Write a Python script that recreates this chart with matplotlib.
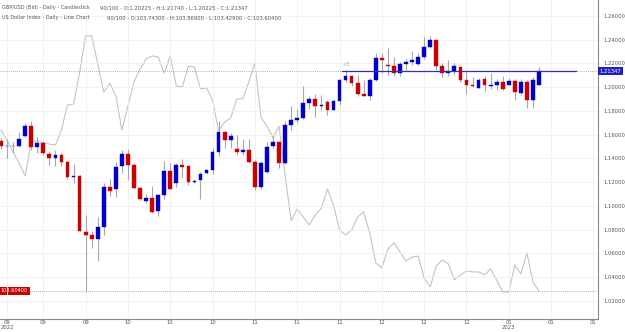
import matplotlib.pyplot as plt

# GBP/USD daily candles (90 of 100 slots)
opens = [1.1551, 1.1501, 1.1509, 1.1509, 1.1593, 1.1677, 1.1496, 1.1534, 1.1438, 1.1400,
         1.1433, 1.1370, 1.1244, 1.1251, 1.0783, 1.0756, 1.0720, 1.0823, 1.1159, 1.1140,
         1.1335, 1.1439, 1.1344, 1.1148, 1.1039, 1.1070, 1.0957, 1.1089, 1.1293, 1.1196,
         1.1344, 1.1335, 1.1201, 1.1215, 1.1280, 1.1299, 1.1453, 1.1624, 1.1553, 1.1484,
         1.1456, 1.1475, 1.1372, 1.1162, 1.1288, 1.1503, 1.1540, 1.1364, 1.1679, 1.1727,
         1.1741, 1.1867, 1.1901, 1.1845, 1.1872, 1.1811, 1.1881, 1.2063, 1.2096, 1.2035,
         1.1945, 1.1929, 1.2057, 1.2245, 1.2189, 1.2175, 1.2119, 1.2195, 1.2216, 1.2195,
         1.2253, 1.2337, 1.2399, 1.2175, 1.2119, 1.2138, 1.2170, 1.2063, 1.2021, 1.1993,
         1.2069, 1.2010, 1.2015, 1.2044, 1.2021, 1.2049, 1.1951, 1.2044, 1.1895, 1.20225]
highs = [1.1576, 1.1560, 1.1542, 1.1626, 1.1702, 1.1719, 1.1584, 1.1551, 1.1459, 1.1475,
         1.1450, 1.1379, 1.1350, 1.1257, 1.0921, 1.0790, 1.0910, 1.1196, 1.1224, 1.1369,
         1.1475, 1.1484, 1.1364, 1.1162, 1.1104, 1.1167, 1.1104, 1.1377, 1.1358, 1.1358,
         1.1397, 1.1337, 1.1224, 1.1282, 1.1307, 1.1490, 1.1713, 1.1629, 1.1616, 1.1601,
         1.1560, 1.1560, 1.1385, 1.1377, 1.1537, 1.1601, 1.1545, 1.1713, 1.1839, 1.1817,
         1.2012, 1.1929, 1.1945, 1.1937, 1.1895, 1.1895, 1.2069, 1.2147, 1.2105, 1.2105,
         1.2063, 1.2077, 1.2292, 1.2287, 1.2329, 1.2253, 1.2216, 1.2237, 1.2306, 1.2287,
         1.2426, 1.2432, 1.2404, 1.2208, 1.2225, 1.2208, 1.2175, 1.2133, 1.2086, 1.2077,
         1.2091, 1.2119, 1.2069, 1.2091, 1.2077, 1.2069, 1.2069, 1.2057, 1.2086, 1.21740]
lows = [1.1484, 1.1400, 1.1450, 1.1500, 1.1584, 1.1475, 1.1450, 1.1433, 1.1341, 1.1340,
        1.1340, 1.1228, 1.1194, 1.0787, 1.0278, 1.0650, 1.0538, 1.0756, 1.1083, 1.1075,
        1.1274, 1.1218, 1.1140, 1.1050, 1.1022, 1.0944, 1.0916, 1.1056, 1.1140, 1.1162,
        1.1238, 1.1173, 1.1190, 1.1056, 1.1266, 1.1266, 1.1419, 1.1490, 1.1490, 1.1433,
        1.1433, 1.1364, 1.1134, 1.1140, 1.1280, 1.1490, 1.1322, 1.1350, 1.1637, 1.1699,
        1.1733, 1.1817, 1.1750, 1.1805, 1.1769, 1.1805, 1.1853, 1.2040, 1.2012, 1.1923,
        1.1924, 1.1889, 1.2049, 1.2119, 1.2105, 1.2096, 1.2091, 1.2138, 1.2189, 1.2189,
        1.2237, 1.2329, 1.2147, 1.2086, 1.2096, 1.2105, 1.2040, 1.1945, 1.2002, 1.1990,
        1.1965, 1.1987, 1.1973, 1.1979, 1.2015, 1.1889, 1.1937, 1.1825, 1.1825, 1.20225]
closes = [1.1501, 1.1509, 1.1505, 1.1568, 1.1677, 1.1496, 1.1534, 1.1442, 1.1400, 1.1433,
          1.1370, 1.1244, 1.1253, 1.0790, 1.0756, 1.0720, 1.0823, 1.1159, 1.1125, 1.1327,
          1.1439, 1.1344, 1.1154, 1.1056, 1.1067, 1.0952, 1.1089, 1.1293, 1.1146, 1.1344,
          1.1330, 1.1201, 1.1213, 1.1266, 1.1299, 1.1453, 1.1624, 1.1553, 1.1587, 1.1456,
          1.1475, 1.1372, 1.1162, 1.1358, 1.1498, 1.1540, 1.1364, 1.1679, 1.1721, 1.1741,
          1.1867, 1.1901, 1.1845, 1.1853, 1.1811, 1.1881, 1.2063, 1.2096, 1.2035, 1.1945,
          1.1929, 1.2063, 1.2245, 1.2231, 1.2180, 1.2119, 1.2195, 1.2216, 1.2231, 1.2253,
          1.2337, 1.2399, 1.2175, 1.2119, 1.2138, 1.2175, 1.2063, 1.2021, 1.2007, 1.2063,
          1.2015, 1.2015, 1.2040, 1.1985, 1.2049, 1.1956, 1.2044, 1.1895, 1.2063, 1.21347]

# US Dollar Index daily closes (overlay line)
dxy = [110.23, 109.82, 109.32, 108.87, 108.34, 109.74, 109.78, 109.70, 109.65, 109.61,
       110.23, 111.26, 111.30, 112.58, 114.10, 114.10, 112.95, 111.79, 112.16, 111.63,
       110.23, 111.22, 112.21, 112.74, 113.15, 113.28, 113.23, 112.58, 113.28, 112.04,
       112.00, 112.86, 112.82, 111.92, 111.96, 111.46, 110.19, 110.56, 110.72, 111.51,
       111.51, 112.21, 112.99, 110.76, 110.39, 109.90, 110.39, 108.38, 106.49, 106.98,
       106.65, 106.32, 106.73, 107.02, 107.80, 107.14, 106.11, 105.91, 106.11, 106.65,
       106.86, 105.99, 104.76, 104.55, 105.33, 105.58, 105.21, 104.84, 105.00, 105.04,
       104.14, 103.77, 104.63, 104.88, 104.72, 104.06, 104.26, 104.43, 104.39, 104.39,
       104.26, 104.51, 104.06, 103.56, 103.56, 104.67, 104.30, 105.17, 103.97, 103.604]

tick_pos = [1, 7, 14, 21, 28, 35, 42, 49, 56, 63, 70, 77, 84, 91, 98]
tick_labels = ["09\n2022", "09", "09", "10", "10", "10", "11", "11", "11",
               "12", "12", "12", "01\n2023", "01", "01"]
price_ticks = [1.02, 1.04, 1.06, 1.08, 1.10, 1.12, 1.14, 1.16, 1.18, 1.20, 1.22, 1.24, 1.26]

RED = "#cc0000"
BLUE = "#0000c8"
WICK = "#a8a8a8"
TXT = "#555555"

fig = plt.figure(figsize=(6.25, 3.32), dpi=100)
ax = fig.add_axes([0, 13 / 332, 598 / 625, 319 / 332])
ax2 = ax.twinx()
ax.set_zorder(2)
ax.patch.set_visible(False)

xs = list(range(len(opens)))

# grid
for p in price_ticks:
    ax.axhline(p, color="#efefef", lw=0.6, zorder=0)
for t in tick_pos:
    ax.axvline(t, color="#efefef", lw=0.6, zorder=0)

# dollar index line on its own scale
ax2.plot(xs, dxy, color="#c4c4c4", lw=0.8)
ax2.axhline(dxy[-1], color="#999999", lw=0.6, ls=(0, (1, 1.5)))
ax2.set_ylim(102.45, 115.58)
ax2.set_yticks([])
for s in ax2.spines.values():
    s.set_visible(False)
ax2.text(0.0, dxy[-1], "%.5f" % dxy[-1], fontsize=3.6, color="white", va="center", ha="left",
         bbox=dict(boxstyle="square,pad=0.3", fc=RED, ec="none"), zorder=5)

# candles
ax.vlines(xs, lows, highs, color=WICK, lw=0.8, zorder=2)
body_col = [BLUE if c >= o else RED for o, c in zip(opens, closes)]
heights = [max(abs(c - o), 0.0004) for o, c in zip(opens, closes)]
bottoms = [min(o, c) for o, c in zip(opens, closes)]
ax.bar(xs, heights, bottom=bottoms, width=0.62, color=body_col, edgecolor=body_col, lw=0.3, zorder=3)

# last price line
last = closes[-1]
ax.axhline(last, color="#999999", lw=0.6, ls=(0, (1, 1.5)), zorder=1)
ax.plot([56.4, 95.2], [last, last], color="#3030c0", lw=0.9, zorder=4)
ax.text(56.5, last + 0.004, "<3", fontsize=3.5, color="#9999cc", zorder=4)

ax.set_xlim(-0.165, 98.76)
ax.set_ylim(1.00485, 1.27343)
ax.yaxis.tick_right()
ax.set_yticks(price_ticks)
ax.set_yticklabels(["%.5f" % p for p in price_ticks])
ax.set_xticks(tick_pos)
ax.set_xticklabels(tick_labels, linespacing=0.8)
ax.tick_params(axis="both", labelsize=3.8, colors=TXT, length=0, pad=1)
ax.tick_params(axis="y", pad=4)
ax.text(1.003, last, "%.5f" % last, transform=ax.get_yaxis_transform(), fontsize=3.8,
        color="white", va="center", ha="left",
        bbox=dict(boxstyle="square,pad=0.3", fc="#2020c0", ec="none"), clip_on=False, zorder=6)

for s in ["left", "top"]:
    ax.spines[s].set_visible(False)
for s in ["right", "bottom"]:
    ax.spines[s].set_color("#888888")
    ax.spines[s].set_linewidth(0.8)

# header text
ax.text(0.003, 0.975, "GBP/USD (Bid) - Daily - Candlestick", transform=ax.transAxes,
        fontsize=3.6, color=TXT, va="center")
ax.text(0.167, 0.975, "90/100 - O:1.20225 - H:1.21740 - L:1.20225 - C:1.21347",
        transform=ax.transAxes, fontsize=3.8, color=TXT, va="center")
ax.text(0.003, 0.944, "US Dollar Index - Daily - Line Chart", transform=ax.transAxes,
        fontsize=3.6, color=TXT, va="center")
ax.text(0.179, 0.944, "90/100 - O:103.74300 - H:103.86900 - L:103.42900 - C:103.60400",
        transform=ax.transAxes, fontsize=3.8, color=TXT, va="center")

fig.savefig("out.png", dpi=100)
